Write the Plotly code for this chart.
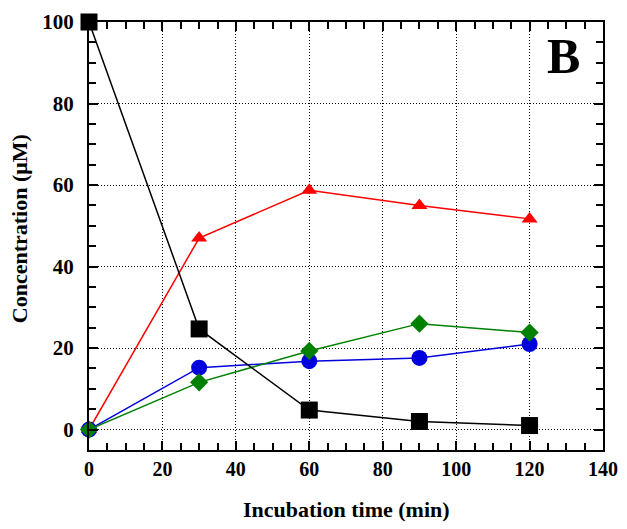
import plotly.graph_objects as go

time_min = [0, 30, 60, 90, 120]
black_sq = [100, 24.7, 4.8, 2.0, 1.0]
red_tri = [0, 47, 58.7, 55, 51.7]
blue_circ = [0, 15.2, 16.8, 17.6, 21]
green_dia = [0, 11.6, 19.3, 26, 23.8]

FONT = "Liberation Serif"

fig = go.Figure()
fig.add_trace(go.Scatter(x=time_min, y=red_tri, mode="lines+markers", cliponaxis=False,
                         line=dict(color="#ff0000", width=1.5),
                         marker=dict(symbol="triangle-up", size=14, color="#ff0000")))
fig.add_trace(go.Scatter(x=time_min, y=blue_circ, mode="lines+markers", cliponaxis=False,
                         line=dict(color="#0000dd", width=1.5),
                         marker=dict(symbol="circle", size=16, color="#0000dd")))
fig.add_trace(go.Scatter(x=time_min, y=green_dia, mode="lines+markers", cliponaxis=False,
                         line=dict(color="#008000", width=1.5),
                         marker=dict(symbol="diamond", size=14, color="#008000")))
fig.add_trace(go.Scatter(x=time_min, y=black_sq, mode="lines+markers", cliponaxis=False,
                         line=dict(color="#000000", width=1.5),
                         marker=dict(symbol="square", size=17, color="#000000")))

axis_common = dict(
    showline=True, linecolor="black", linewidth=2, mirror="allticks",
    ticks="inside", ticklen=9, tickwidth=1.5, tickcolor="black",
    showgrid=True, gridcolor="black", gridwidth=1, griddash="1px,2px",
    zeroline=False, automargin=False,
    minor=dict(ticks="inside", ticklen=7, tickwidth=1.5, tickcolor="black", dtick=5, showgrid=False),
)

fig.update_xaxes(range=[0, 140], dtick=20, tick0=0, ticklabeloverflow="allow",
                 tickfont=dict(family=FONT, size=20, color="black", weight="bold"),
                 **axis_common)
fig.update_yaxes(range=[-5, 100], dtick=20, tick0=0, ticklabelstandoff=9,
                 tickfont=dict(family=FONT, size=21, color="black", weight="bold"),
                 **axis_common)

fig.add_annotation(x=0.5, y=-0.140, xref="paper", yref="paper", text="Incubation time (min)",
                   showarrow=False, xanchor="center", yanchor="middle",
                   font=dict(family=FONT, size=22, color="black", weight="bold"))
fig.add_annotation(x=-0.136, y=0.516, xref="paper", yref="paper", text="Concentration (μM)",
                   textangle=-90, showarrow=False, xanchor="center", yanchor="middle",
                   font=dict(family=FONT, size=22, color="black", weight="bold"))
fig.add_annotation(x=0.924, y=0.921, xref="paper", yref="paper", text="B", showarrow=False,
                   xanchor="center", yanchor="middle",
                   font=dict(family=FONT, size=50, color="black", weight="bold"))

fig.update_layout(width=611, height=513, showlegend=False,
                  margin=dict(l=81, r=16, t=14, b=71),
                  plot_bgcolor="white", paper_bgcolor="white")

fig.write_html("out.html")
